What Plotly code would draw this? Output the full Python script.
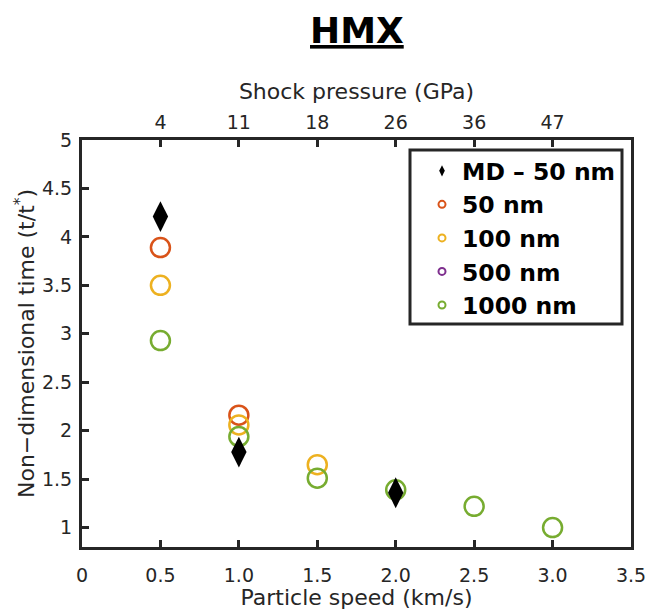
import plotly.graph_objects as go

# ---- data ----
md_x = [0.5, 1.0, 2.0]
md_y = [4.21, 1.78, 1.36]

nm50_x = [0.5, 1.0]
nm50_y = [3.89, 2.16]

nm100_x = [0.5, 1.0, 1.5]
nm100_y = [3.50, 2.06, 1.65]

# 500 nm points are not visible in the reference (hidden beneath the 1000 nm markers)
nm1000_x = [0.5, 1.0, 1.5, 2.0, 2.5, 3.0]
nm1000_y = [2.93, 1.94, 1.51, 1.39, 1.22, 1.00]

speed_ticks = [0, 0.5, 1.0, 1.5, 2.0, 2.5, 3.0, 3.5]
speed_labels = ["0", "0.5", "1.0", "1.5", "2.0", "2.5", "3.0", "3.5"]
pressure_ticks = [0.5, 1.0, 1.5, 2.0, 2.5, 3.0]
pressure_labels = ["4", "11", "18", "26", "36", "47"]
y_ticks = [1, 1.5, 2, 2.5, 3, 3.5, 4, 4.5, 5]
y_labels = ["1", "1.5", "2", "2.5", "3", "3.5", "4", "4.5", "5"]

names = ["MD \u2013 50 nm", "50 nm", "100 nm", "500 nm", "1000 nm"]
colors = ["#000000", "#D95319", "#EDB120", "#7E2F8E", "#77AC30"]

AX = "#262626"
FONT = "DejaVu Sans"

fig = go.Figure()

def circles(x, y, c):
    return go.Scatter(x=x, y=y, mode="markers", showlegend=False, hoverinfo="x+y",
                      marker=dict(symbol="circle-open", size=19, color=c, line=dict(width=2.5, color=c)))

fig.add_trace(circles(nm50_x, nm50_y, colors[1]))
fig.add_trace(circles(nm100_x, nm100_y, colors[2]))
fig.add_trace(circles(nm1000_x, nm1000_y, colors[4]))
fig.add_trace(go.Scatter(x=md_x, y=md_y, mode="markers", showlegend=False,
                         marker=dict(symbol="diamond-tall", size=22, color=colors[0], line=dict(width=0))))

# legend entries with small markers
for i, (nm, c) in enumerate(zip(names, colors)):
    if i == 0:
        mk = dict(symbol="diamond-tall", size=8, color=c, line=dict(width=0))
    else:
        mk = dict(symbol="circle-open", size=7, color=c, line=dict(width=2, color=c))
    fig.add_trace(go.Scatter(x=[None], y=[None], mode="markers", name=nm,
                             legendgroup=f"g{i}", marker=mk))

fig.update_layout(
    width=651, height=610,
    margin=dict(l=82, r=20, t=140, b=63, autoexpand=False),
    paper_bgcolor="white", plot_bgcolor="white",
    font=dict(family=FONT, color=AX),
    showlegend=True,
    legend=dict(x=(422 - 82) / 549, y=(547 - 149) / 407, xanchor="left", yanchor="top",
                bgcolor="rgba(0,0,0,0)", borderwidth=0,
                font=dict(family=FONT, size=23.5, color="#000000", weight="bold"),
                tracegroupgap=0, itemwidth=30),
    xaxis=dict(range=[0, 3.5], tickvals=speed_ticks, ticktext=speed_labels,
               showline=True, linecolor=AX, linewidth=3, mirror=False, automargin=False,
               ticks="inside", ticklen=7, tickwidth=3, tickcolor=AX,
               showgrid=False, zeroline=False, ticklabelstandoff=9,
               tickfont=dict(size=19, color=AX),
               title=dict(text="Particle speed (km/s)", font=dict(size=22, color=AX), standoff=3)),
    xaxis2=dict(range=[0, 3.5], overlaying="x", side="top", anchor="y", automargin=False,
                tickvals=pressure_ticks, ticktext=pressure_labels,
                showline=True, linecolor=AX, linewidth=3,
                ticks="inside", ticklen=7, tickwidth=3, tickcolor=AX,
                showgrid=False, zeroline=False,
                tickfont=dict(size=19, color=AX),
                title=dict(text="Shock pressure (GPa)", font=dict(size=22, color=AX), standoff=6)),
    yaxis=dict(range=[0.8, 5], tickvals=y_ticks, ticktext=y_labels, automargin=False,
               showline=True, linecolor=AX, linewidth=3, mirror=True,
               ticks="inside", ticklen=7, tickwidth=3, tickcolor=AX,
               showgrid=False, zeroline=False, ticklabelstandoff=3,
               tickfont=dict(size=19, color=AX),
               title=dict(text="Non\u2212dimensional time (t/t<sup>*</sup>)", font=dict(size=22, color=AX), standoff=2)),
)

# trace on top axis so it is drawn
fig.add_trace(go.Scatter(x=[None], y=[None], xaxis="x2", showlegend=False, hoverinfo="skip"))

# legend box
fig.add_shape(type="rect", xref="paper", yref="paper",
              x0=(410 - 82) / 549, x1=(622 - 82) / 549,
              y0=(547 - 324) / 407, y1=(547 - 150) / 407,
              line=dict(color=AX, width=3), fillcolor="white", layer="above")

# title
fig.add_annotation(text="<b><u>HMX</u></b>", xref="paper", yref="paper",
                   x=0.5, y=(547 - 31) / 407, xanchor="center", yanchor="middle",
                   showarrow=False, font=dict(family=FONT, size=36, color="#000000"))

fig.write_html("out.html")
